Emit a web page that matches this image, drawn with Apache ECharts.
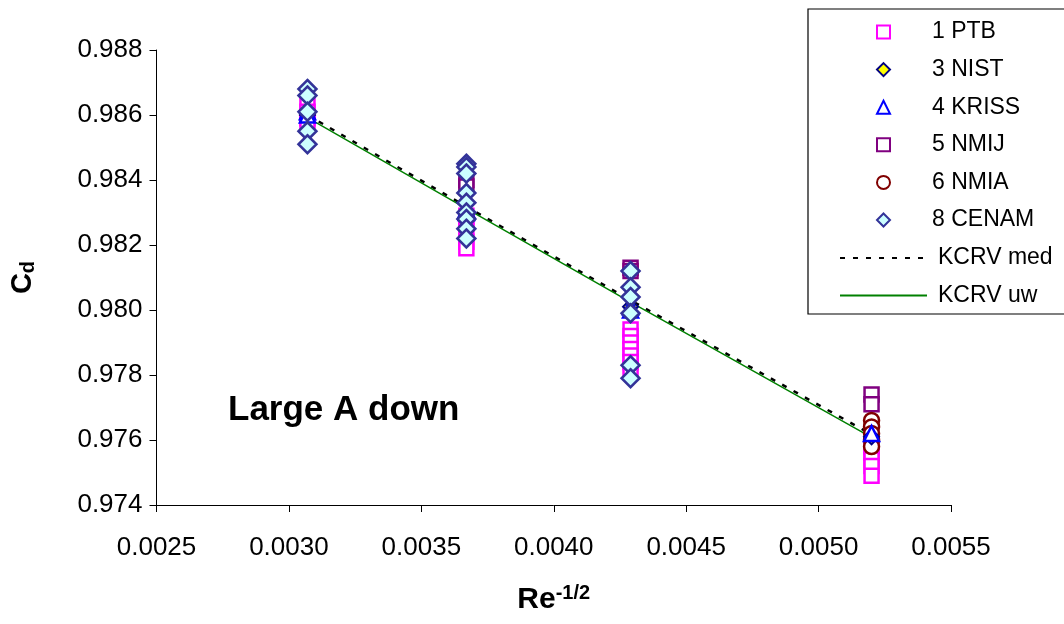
<!DOCTYPE html>
<html><head><meta charset="utf-8">
<script src="https://cdn.jsdelivr.net/npm/echarts@6/dist/echarts.min.js"></script>
<style>html,body{margin:0;padding:0;background:#fff}#c{width:1064px;height:624px}</style>
</head><body><div id="c"></div>
<script>
// Re^-1/2 positions of the four measurement points
const xPos = [0.00307, 0.00367, 0.00429, 0.00520];
// Cd values per participant, grouped by x position
const ptbVals   = [[0.9863,0.9861,0.9859,0.9857],[0.9829,0.9827,0.9824,0.9821,0.9819],[0.9794,0.9792,0.9790,0.9788,0.9786,0.9784,0.9782],[0.9758,0.9756,0.9754,0.9752,0.9749]];
const nistVals  = [[0.9860],[0.9830],[0.9801],[0.9761]];
const krissVals = [[0.9861,0.9860],[0.9831,0.9830],[0.9801,0.9800],[0.9762]];
const nmijVals  = [[],[0.9840,0.9838],[0.9813,0.9812],[0.9774,0.9771]];
const nmiaVals  = [[],[],[],[0.9766,0.9764,0.9762,0.9760,0.9758]];
const cenamVals = [[0.9868,0.9866,0.9861,0.9855,0.9851],[0.9845,0.9844,0.9842,0.9836,0.9833,0.9830,0.9828,0.9825,0.9822],[0.9812,0.9807,0.9804,0.9799,0.9783,0.9779],[]];
// reference value lines
const kcrvMed = [0.98600, 0.98318, 0.98030, 0.97617];
const kcrvUw  = [0.98592, 0.98312, 0.98024, 0.97608];
const xTicks = {min:0.0025, max:0.0055, step:0.0005};
const yTicks = {min:0.974, max:0.988, step:0.002};
const legendNames = ['1 PTB','3 NIST','4 KRISS','5 NMIJ','6 NMIA','8 CENAM'];
const lineNames = ['KCRV med','KCRV uw'];

const FF = '"Liberation Sans", Arial, sans-serif';
function pts(groups){const o=[];groups.forEach((g,i)=>g.forEach(v=>o.push([xPos[i],v])));return o;}
function sc(name, vals, symbol, size, fill, border, bw){
  return {name, type:'scatter', data:pts(vals), symbol, symbolSize:size, z:3,
    itemStyle:{color:fill, borderColor:border, borderWidth:bw, opacity:1}};
}
const chart = echarts.init(document.getElementById('c'), null, {renderer:'canvas'});
chart.setOption({
  animation:false,
  backgroundColor:'#fff',
  grid:{left:153, right:113, top:50, bottom:119},
  xAxis:{type:'value', min:xTicks.min, max:xTicks.max, interval:xTicks.step,
    axisLine:{lineStyle:{color:'#000', width:1}},
    axisTick:{length:7, lineStyle:{color:'#000'}},
    splitLine:{show:false},
    axisLabel:{formatter:v=>v.toFixed(4), fontSize:26, color:'#000', fontFamily:FF, margin:30},
    name:'{a|Re}{b|-1/2}', nameLocation:'middle', nameGap:78,
    nameTextStyle:{rich:{a:{fontSize:30, fontWeight:'bold', fontFamily:FF, color:'#000', lineHeight:34},
                         b:{fontSize:20, fontWeight:'bold', fontFamily:FF, color:'#000', lineHeight:20, verticalAlign:'top'}}}
  },
  yAxis:{type:'value', min:yTicks.min, max:yTicks.max, interval:yTicks.step,
    axisLine:{show:true, lineStyle:{color:'#000', width:1}},
    axisTick:{show:true, length:7, lineStyle:{color:'#000'}},
    splitLine:{show:false},
    axisLabel:{formatter:v=>v.toFixed(3), fontSize:26, color:'#000', fontFamily:FF, margin:14},
    name:'{a|C}{b|d}', nameLocation:'middle', nameGap:118,
    nameTextStyle:{rich:{a:{fontSize:29, fontWeight:'bold', fontFamily:FF, color:'#000', lineHeight:32},
                         b:{fontSize:20, fontWeight:'bold', fontFamily:FF, color:'#000', lineHeight:20, verticalAlign:'bottom'}}}
  },
  legend:[
    {data:legendNames, orient:'vertical', left:871, top:15, itemWidth:13, itemHeight:13, itemGap:13.6,
     textStyle:{fontSize:23, fontFamily:FF, color:'#000', lineHeight:24, padding:[0,0,0,37]}, selectedMode:false},
    {data:lineNames, orient:'vertical', left:834, top:241, itemWidth:87, itemHeight:13, itemGap:13.6,
     itemStyle:{opacity:0},
     textStyle:{fontSize:23, fontFamily:FF, color:'#000', lineHeight:24, padding:[0,0,0,6]}, selectedMode:false}
  ],
  graphic:[
    {type:'rect', shape:{x:808, y:9, width:300, height:305}, style:{fill:'rgba(0,0,0,0)', stroke:'#000', lineWidth:1.2}, z:-1},
    {type:'text', left:228, top:393, style:{text:'Large A down', fontSize:35, fontWeight:'bold', fontFamily:FF, fill:'#000'}}
  ],
  series:[
    {name:lineNames[0], type:'line', data:xPos.map((x,i)=>[x,kcrvMed[i]]), symbol:'none', z:2,
     lineStyle:{color:'#000', width:2.5, type:[5,8]}, itemStyle:{color:'#000'}},
    {name:lineNames[1], type:'line', data:xPos.map((x,i)=>[x,kcrvUw[i]]), symbol:'none', z:2,
     lineStyle:{color:'#008000', width:1.5, type:'solid'}, itemStyle:{color:'#008000'}},
    sc(legendNames[0], ptbVals, 'rect', 14, '#fff', '#FF00FF', 2.5),
    sc(legendNames[3], nmijVals, 'rect', 14, '#fff', '#800080', 2.5),
    sc(legendNames[4], nmiaVals, 'circle', 15, '#fff', '#800000', 2.5),
    sc(legendNames[1], nistVals, 'diamond', 15, '#FFFF00', '#000080', 2),
    sc(legendNames[2], krissVals, 'triangle', 15, '#fff', '#0000FF', 2.5),
    sc(legendNames[5], cenamVals, 'diamond', 18, '#CCFFFF', '#333399', 2.5)
  ]
});
</script></body></html>
